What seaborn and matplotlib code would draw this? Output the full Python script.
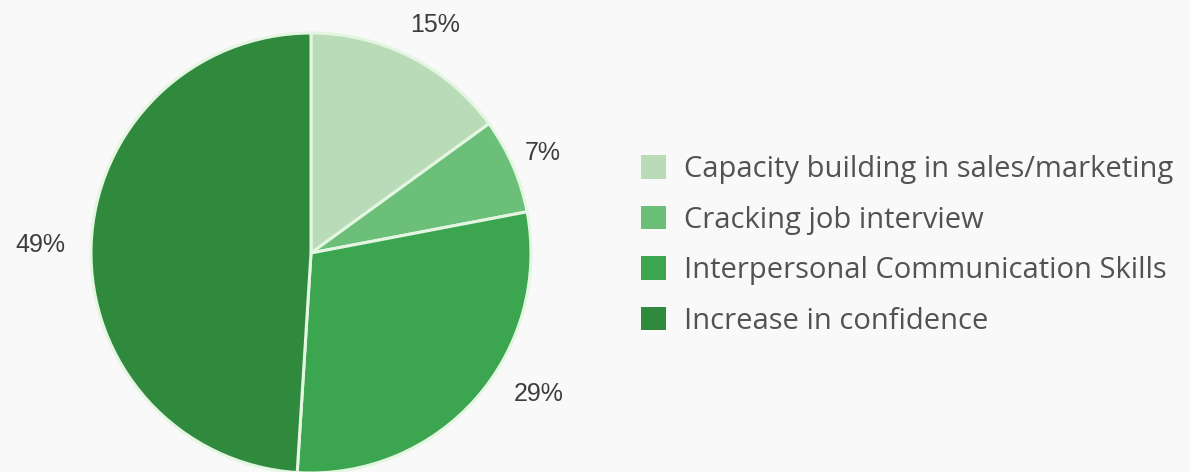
import numpy as np
import matplotlib
matplotlib.use("Agg")
import matplotlib.pyplot as plt
from matplotlib.patches import Patch
import seaborn as sns

# Share of respondents by training outcome
categories = [
    "Capacity building in sales/marketing",
    "Cracking job interview",
    "Interpersonal Communication Skills",
    "Increase in confidence",
]
shares = [15, 7, 29, 49]
share_labels = ["15%", "7%", "29%", "49%"]

colors = ["#b9dbb8", "#6bbf79", "#3ba54f", "#2f8a3e"]
bg = "#f8f9f8"

sns.set_theme(style="white")
plt.rcParams["font.family"] = ["Liberation Sans", "DejaVu Sans"]

fig = plt.figure(figsize=(11.9, 4.72), dpi=100, facecolor=bg)
ax = fig.add_axes([91 / 1190, -1 / 472, 440 / 1190, 440 / 472])
ax.set_facecolor(bg)

wedges, _ = ax.pie(
    shares,
    colors=colors,
    startangle=90,
    counterclock=False,
    radius=1.0,
    wedgeprops=dict(edgecolor="#e4f6e2", linewidth=2.2),
)
ax.set_xlim(-1, 1)
ax.set_ylim(-1, 1)
ax.set_aspect("equal")
ax.axis("off")

# Value labels placed around the rim, nudged to sit clear of neighbours
label_shift = [1.5, 0.0, -9.6, 0.0]      # degrees, clockwise
label_dist = [1.18, 1.15, 1.22, 1.23]
for w, txt, dshift, dist in zip(wedges, share_labels, label_shift, label_dist):
    mid = 0.5 * (w.theta1 + w.theta2) - dshift
    rad = np.deg2rad(mid)
    ax.text(dist * np.cos(rad), dist * np.sin(rad), txt,
            ha="center", va="center", fontsize=18, color="#3d3d3d")

handles = [Patch(facecolor=c, edgecolor="none") for c in colors]
leg = fig.legend(
    handles, categories,
    loc="upper left",
    bbox_to_anchor=(641 / 1190, 1 - 155 / 472),
    frameon=False,
    handlelength=0.86,
    handleheight=0.86,
    handletextpad=0.6,
    labelspacing=0.74,
    borderaxespad=0,
    borderpad=0,
    prop=dict(family=["Open Sans", "DejaVu Sans"], weight="normal", size=21),
    labelcolor="#525252",
)

fig.savefig("out.png", dpi=100, facecolor=bg)
